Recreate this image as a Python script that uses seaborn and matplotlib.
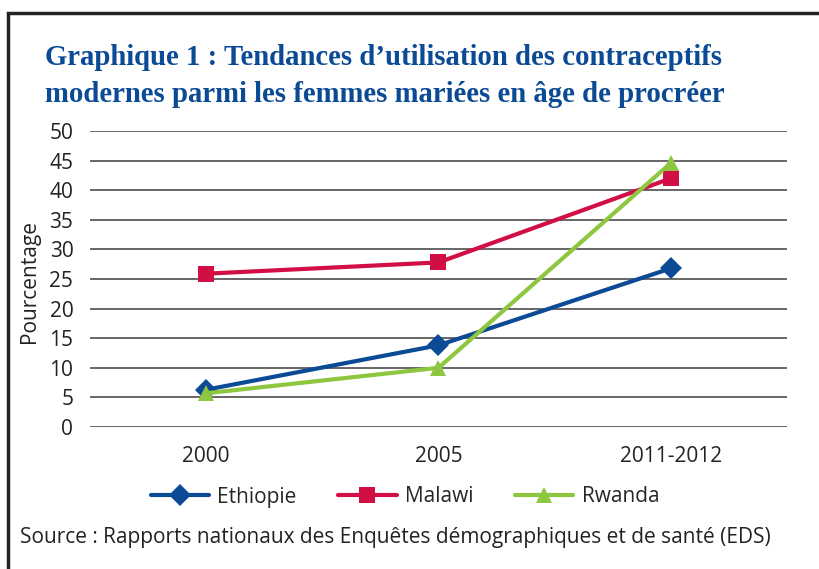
import matplotlib
matplotlib.use("Agg")
import matplotlib.pyplot as plt
import seaborn as sns
import pandas as pd
from matplotlib.patches import Rectangle
from matplotlib.lines import Line2D

years = ["2000", "2005", "2011-2012"]
ethiopie = [6.3, 13.8, 26.8]
malawi = [25.9, 27.8, 42.0]
rwanda = [5.7, 10.0, 44.6]
countries = ["Ethiopie", "Malawi", "Rwanda"]
yticks = list(range(0, 55, 5))

title = "Graphique 1 : Tendances d\u2019utilisation des contraceptifs\nmodernes parmi les femmes mari\u00e9es en \u00e2ge de procr\u00e9er"
source = "Source : Rapports nationaux des Enqu\u00eates d\u00e9mographiques et de sant\u00e9 (EDS)"

rows = []
for c, vals in zip(countries, [ethiopie, malawi, rwanda]):
    for y, v in zip(years, vals):
        rows.append({"Année": y, "Pourcentage": v, "Pays": c})
df = pd.DataFrame(rows)

sns.set_theme(style="white")
plt.rcParams["font.family"] = ["Open Sans", "DejaVu Sans"]

W, H = 819, 569
fig = plt.figure(figsize=(W / 100, H / 100), dpi=100)
ax = fig.add_axes([90 / W, 1 - 427 / H, (787 - 90) / W, (427 - 131) / H])

palette = {"Ethiopie": "#0B4A94", "Malawi": "#D20F45", "Rwanda": "#8DC63F"}
markers = {"Ethiopie": "D", "Malawi": "s", "Rwanda": "^"}
msize = {"Ethiopie": 11, "Malawi": 11, "Rwanda": 12}

sns.lineplot(data=df, x="Année", y="Pourcentage", hue="Pays", style="Pays",
             palette=palette, markers=markers, dashes=False, linewidth=3,
             markersize=11, markeredgewidth=0, ax=ax, sort=False, legend=False,
             zorder=3)

ax.set_ylim(0, 50)
ax.set_xlim(-0.5, 2.5)
ax.set_yticks(yticks)
ax.yaxis.grid(True, color="#5a5a5a", linewidth=1.3)
ax.xaxis.grid(False)
for s in ax.spines.values():
    s.set_visible(False)
ax.tick_params(axis="y", length=0, pad=12, labelsize=15, colors="#222222")
ax.tick_params(axis="x", length=0, pad=14, labelsize=15, colors="#222222")
ax.set_xlabel("")
ax.set_ylabel("Pourcentage", fontsize=15, color="#222222", va="center")
ax.yaxis.set_label_coords((30 - 90) / (787 - 90), 0.49)

handles = [Line2D([0], [0], color=palette[c], marker=markers[c], lw=3,
                  markersize=msize[c], markeredgewidth=0) for c in countries]
fig.legend(handles, countries, loc="center", bbox_to_anchor=(405 / W, 1 - 497 / H),
           ncol=3, frameon=False, fontsize=15, handlelength=2.8,
           columnspacing=2.0, handletextpad=0.4)

fig.text(45 / W, 1 - 76 / H, title, fontsize=20.7, fontweight="bold",
         family=["Liberation Serif"], color="#0B4A94", va="center", ha="left",
         linespacing=1.45)
fig.text(20 / W, 1 - 537 / H, source, fontsize=15, color="#222222",
         va="center", ha="left")

fig.patches.append(Rectangle((8 / W, -0.1), 1.2, 1 - 13 / H + 0.1,
                             transform=fig.transFigure, fill=False,
                             edgecolor="#222222", linewidth=2.5))

fig.savefig("out.png", dpi=100)
